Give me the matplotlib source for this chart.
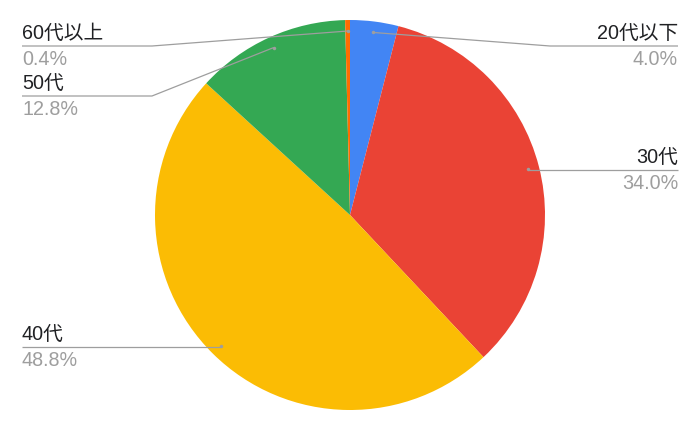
import matplotlib.pyplot as plt
import numpy as np

plt.rcParams['font.family'] = ['Liberation Sans', 'Noto Sans CJK JP', 'DejaVu Sans']

labels = ['20代以下', '30代', '40代', '50代', '60代以上']
values = [4.0, 34.0, 48.8, 12.8, 0.4]
colors = ['#4285F4', '#EA4335', '#FBBC04', '#34A853', '#FF6D01']

W, H = 700, 432
cx, cy, R = 350, 215, 195

fig = plt.figure(figsize=(W / 100, H / 100), dpi=100)
ax = fig.add_axes([0, 0, 1, 1])
ax.set_xlim(0, W)
ax.set_ylim(0, H)
ax.set_aspect('equal')
ax.axis('off')

wedges, _ = ax.pie(values, colors=colors, startangle=90, counterclock=False,
                   center=(cx, H - cy), radius=R,
                   wedgeprops=dict(linewidth=0))
ax.set_xlim(0, W)
ax.set_ylim(0, H)

# label layout in pixels (from top): elbow x, line y, side
layout = {
    '20代以下': (550, 46, 'right'),
    '30代': (None, 170, 'right'),
    '40代': (None, 347, 'left'),
    '50代': (152, 96, 'left'),
    '60代以上': (152, 46, 'left'),
}

line_c = '#9e9e9e'
for w, lab, val in zip(wedges, labels, values):
    mid = np.deg2rad((w.theta1 + w.theta2) / 2)
    dx = cx + 184 * np.cos(mid)
    dy = cy - 184 * np.sin(mid)
    ex, ly, side = layout[lab]
    end_x = 678 if side == 'right' else 22
    if ex is None:
        xs, ys = [dx, end_x], [ly, ly]
    else:
        xs, ys = [dx, ex, end_x], [dy, ly, ly]
    ax.plot(xs, [H - y for y in ys], color=line_c, lw=0.9, solid_capstyle='butt')
    ax.plot(dx, H - dy, 'o', color=line_c, ms=2.5, mec='none')
    ax.text(end_x, H - (ly - 3), lab, ha=side, va='bottom', fontsize=14.2,
            color='#202124')
    ax.text(end_x, H - (ly + 4), f'{val:.1f}%', ha=side, va='top',
            fontsize=14.2, color='#9e9e9e')

fig.savefig('out.png', dpi=100)
